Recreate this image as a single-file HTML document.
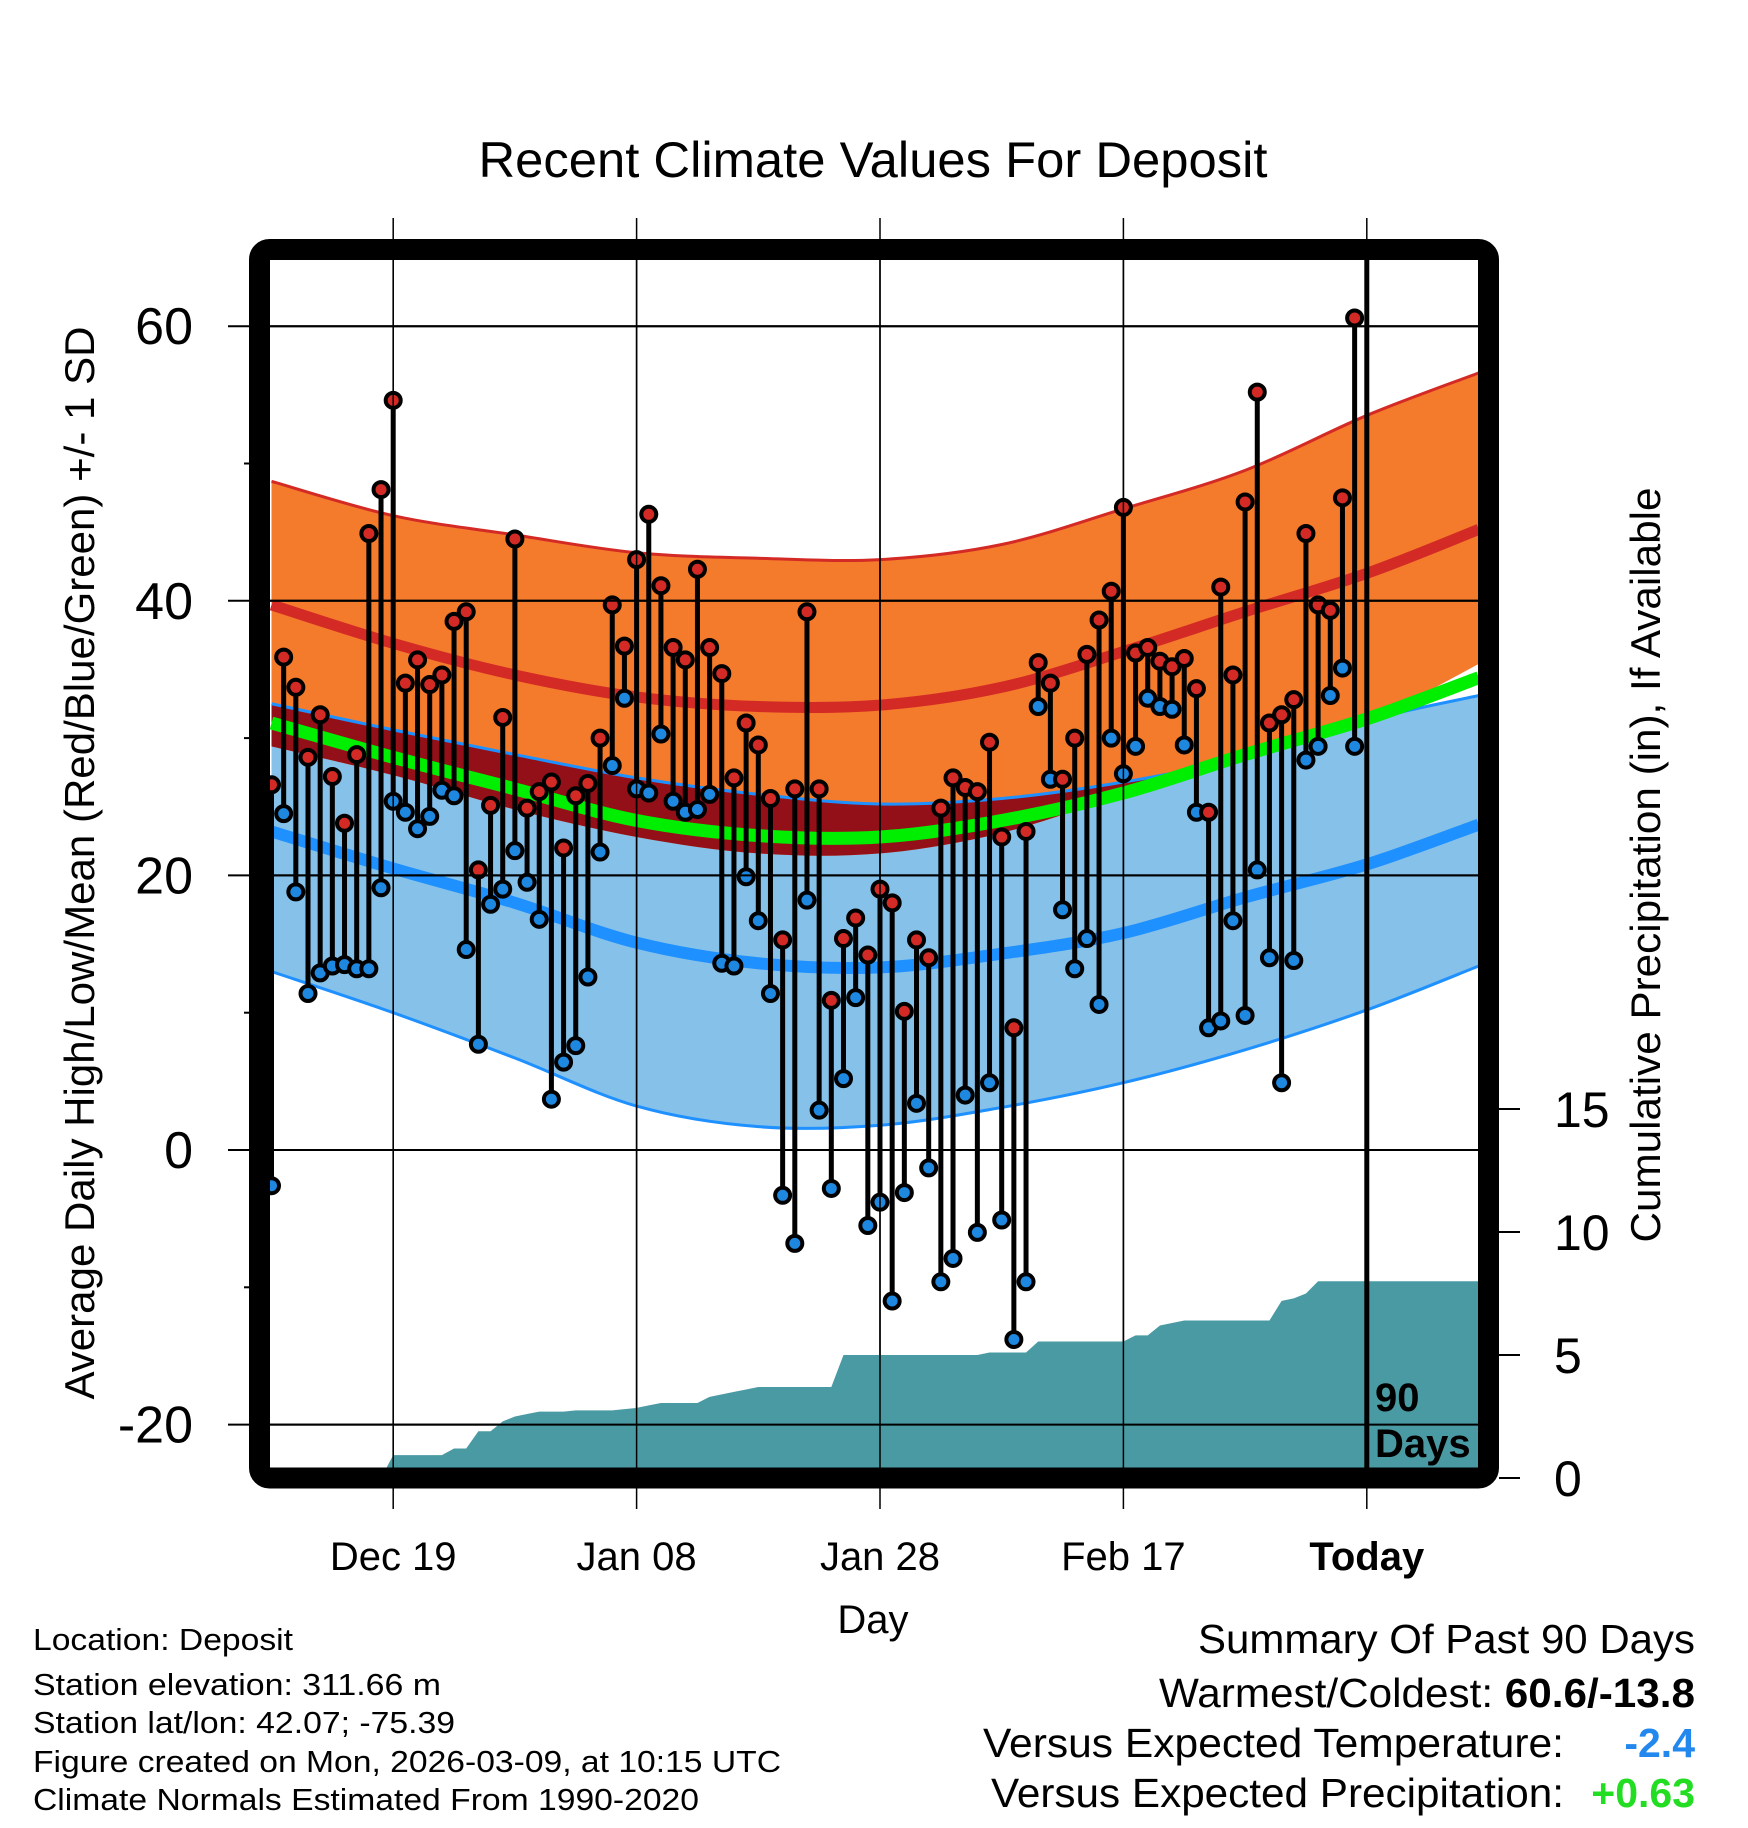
<!DOCTYPE html>
<html><head><meta charset="utf-8"><title>Recent Climate Values For Deposit</title>
<style>
html,body{margin:0;padding:0;background:#fff;}
svg{display:block;font-family:"Liberation Sans",Arial,sans-serif;}
</style></head>
<body>
<svg id="chart" width="1748" height="1828" viewBox="0 0 1748 1828" xmlns="http://www.w3.org/2000/svg">
<defs><clipPath id="plotclip"><rect x="270" y="260" width="1208" height="1208"/></clipPath></defs>
<text x="873" y="177" font-size="50" text-anchor="middle" textLength="789" lengthAdjust="spacingAndGlyphs">Recent Climate Values For Deposit</text>
<g id="plot" clip-path="url(#plotclip)"></g>
<g id="axes"></g>
<text transform="translate(94,863) rotate(-90)" font-size="42" text-anchor="middle" textLength="1073" lengthAdjust="spacingAndGlyphs">Average Daily High/Low/Mean (Red/Blue/Green) +/- 1 SD</text>
<text transform="translate(1660,865) rotate(-90)" font-size="42" text-anchor="middle" textLength="755" lengthAdjust="spacingAndGlyphs">Cumulative Precipitation (in), If Available</text>
<text x="873" y="1633" font-size="40" text-anchor="middle">Day</text>
<g font-size="31">
<text x="33" y="1650" textLength="260" lengthAdjust="spacingAndGlyphs">Location: Deposit</text>
<text x="33" y="1695" textLength="408" lengthAdjust="spacingAndGlyphs">Station elevation: 311.66 m</text>
<text x="33" y="1733" textLength="422" lengthAdjust="spacingAndGlyphs">Station lat/lon: 42.07; -75.39</text>
<text x="33" y="1772" textLength="748" lengthAdjust="spacingAndGlyphs">Figure created on Mon, 2026-03-09, at 10:15 UTC</text>
<text x="33" y="1810" textLength="666" lengthAdjust="spacingAndGlyphs">Climate Normals Estimated From 1990-2020</text>
</g>
<g font-size="41">
<text x="1198" y="1653" textLength="497" lengthAdjust="spacingAndGlyphs">Summary Of Past 90 Days</text>
<text x="1159" y="1707" textLength="536" lengthAdjust="spacingAndGlyphs">Warmest/Coldest: <tspan font-weight="bold">60.6/-13.8</tspan></text>
<text x="983" y="1757" textLength="581" lengthAdjust="spacingAndGlyphs">Versus Expected Temperature:</text>
<text x="1695" y="1757" font-weight="bold" fill="#2288ee" text-anchor="end">-2.4</text>
<text x="991" y="1807" textLength="573" lengthAdjust="spacingAndGlyphs">Versus Expected Precipitation:</text>
<text x="1695" y="1807" font-weight="bold" fill="#22dd22" text-anchor="end">+0.63</text>
</g>
</svg>
<script>
var highs=[26.6,35.9,33.7,28.6,31.7,27.2,23.8,28.8,44.9,48.1,54.6,34.0,35.7,33.9,34.6,38.5,39.2,20.4,25.1,31.5,44.5,24.9,26.1,26.8,22.0,25.8,26.7,30.0,39.7,36.7,43.0,46.3,41.1,36.6,35.7,42.3,36.6,34.7,27.1,31.1,29.5,25.6,15.3,26.3,39.2,26.3,10.9,15.4,16.9,14.2,19.0,18.0,10.1,15.3,14.0,24.9,27.1,26.4,26.1,29.7,22.8,8.9,23.2,35.5,34.0,27.0,30.0,36.1,38.6,40.7,46.8,36.2,36.6,35.6,35.2,35.8,33.6,24.6,41.0,34.6,47.2,55.2,31.1,31.7,32.8,44.9,39.7,39.3,47.5,60.6];
var lows=[-2.6,24.5,18.8,11.4,12.9,13.4,13.5,13.2,13.2,19.1,25.4,24.6,23.4,24.3,26.2,25.8,14.6,7.7,17.9,19.0,21.8,19.5,16.8,3.7,6.4,7.6,12.6,21.7,28.0,32.9,26.3,26.0,30.3,25.4,24.6,24.8,25.9,13.6,13.4,19.9,16.7,11.4,-3.3,-6.8,18.2,2.9,-2.8,5.2,11.1,-5.5,-3.8,-11.0,-3.1,3.4,-1.3,-9.6,-7.9,4.0,-6.0,4.9,-5.1,-13.8,-9.6,32.3,27.0,17.5,13.2,15.4,10.6,30.0,27.4,29.4,32.9,32.3,32.1,29.5,24.6,8.9,9.4,16.7,9.8,20.4,14.0,4.9,13.8,28.4,29.4,33.1,35.1,29.4];
var precip=[0,0,0,0,0,0,0,0,0,0,0.93,0.93,0.93,0.93,0.93,1.2,1.2,1.9,1.9,2.3,2.5,2.6,2.7,2.7,2.7,2.75,2.75,2.75,2.75,2.8,2.85,2.95,3.05,3.05,3.05,3.05,3.3,3.4,3.5,3.6,3.7,3.7,3.7,3.7,3.7,3.7,3.7,5.0,5.0,5.0,5.0,5.0,5.0,5.0,5.0,5.0,5.0,5.0,5.0,5.1,5.1,5.1,5.1,5.55,5.55,5.55,5.55,5.55,5.55,5.55,5.55,5.8,5.8,6.2,6.3,6.4,6.4,6.4,6.4,6.4,6.4,6.4,6.4,7.2,7.3,7.5,8.0,8.0,8.0,8.0];
var normDays=[0,10,20,30,40,50,60,70,80,90,99.2];
var highTop=[48.7,46.2,44.8,43.5,43.1,43.0,44.1,46.7,49.5,53.5,56.6];
var highMean=[39.7,36.9,34.6,33.0,32.3,32.4,33.7,36.3,39.2,42.0,45.2];
var highBot=[29.4,27.3,24.8,22.8,21.6,21.6,23.1,25.9,28.9,31.3,35.4];
var lowTop=[32.5,30.6,28.8,27.1,25.9,25.2,25.6,26.8,28.6,31.3,33.1];
var lowMean=[23.2,20.5,18.0,15.1,13.6,13.3,14.3,15.8,18.4,20.8,23.7];
var lowBot=[13.0,10.0,6.7,3.2,1.7,1.8,3.1,4.9,7.3,10.2,13.4];
var meanTemp=[31.1,28.6,26.3,24.0,22.9,22.8,24.0,26.0,28.8,31.4,34.4];
var yTicks=[60,40,20,0,-20];
var yMinor=[50,30,10,-10];
var precipTicks=[0,5,10,15];
var xTickDays=[10,30,50,70,90];
var xTickLabels=["Dec 19","Jan 08","Jan 28","Feb 17","Today"];

var NS="http://www.w3.org/2000/svg";
function X(d){return 271.5+d*12.17;}
function Y(t){return 1150-t*13.73;}
function P(p){return 1478-p*24.6;}
function mk(tag,attrs,parent){var e=document.createElementNS(NS,tag);for(var k in attrs)e.setAttribute(k,attrs[k]);parent.appendChild(e);return e;}
function pts(vals){return normDays.map(function(d,i){return [X(d),Y(vals[i])];});}
function smooth(p){var s="M"+p[0][0]+","+p[0][1];for(var i=0;i<p.length-1;i++){var p0=p[i>0?i-1:i],p1=p[i],p2=p[i+1],p3=p[i+2<p.length?i+2:i+1];
s+=" C"+(p1[0]+(p2[0]-p0[0])/6)+","+(p1[1]+(p2[1]-p0[1])/6)+" "+(p2[0]-(p3[0]-p1[0])/6)+","+(p2[1]-(p3[1]-p1[1])/6)+" "+p2[0]+","+p2[1];}return s;}
function smoothRev(p){return smooth(p.slice().reverse()).replace(/^M/,"L");}
function band(top,bot){return smooth(pts(top))+" "+smoothRev(pts(bot))+" Z";}
var plot=document.getElementById("plot"),axes=document.getElementById("axes");

var e;
e=mk("path",{d:band(lowTop,lowBot),fill:"#85c1e8"},plot);


e=mk("path",{d:smooth(pts(lowBot)),fill:"none",stroke:"#1e90ff","stroke-width":3},plot);


e=mk("path",{d:band(highTop,highBot),fill:"#f47a2c"},plot);


var ovBot=lowTop.map(function(v,i){return Math.min(v,highBot[i]);});
e=mk("path",{d:band(lowTop,ovBot),fill:"#931018"},plot);


e=mk("path",{d:smooth(pts(highTop)),fill:"none",stroke:"#d42a25","stroke-width":3},plot);


e=mk("path",{d:smooth(pts(lowTop)),fill:"none",stroke:"#1e90ff","stroke-width":3},plot);


e=mk("path",{d:smooth(pts(meanTemp)),fill:"none",stroke:"#00ee00","stroke-width":13},plot);


e=mk("path",{d:smooth(pts(highMean)),fill:"none",stroke:"#d42a25","stroke-width":11},plot);


e=mk("path",{d:smooth(pts(lowMean)),fill:"none",stroke:"#1e90ff","stroke-width":12},plot);



yTicks.forEach(function(t){
  var g=mk("line",{x1:228,x2:1478,y1:Y(t),y2:Y(t),stroke:"#000","stroke-width":2},axes);
  
  
  var l=mk("text",{x:193,y:Y(t)+18,"font-size":52,"text-anchor":"end"},axes);
  
  
  l.textContent=String(t);
});
yMinor.forEach(function(t){
  var g=mk("line",{x1:244,x2:252,y1:Y(t),y2:Y(t),stroke:"#000","stroke-width":2},axes);
  
  
});
xTickDays.forEach(function(d,i){
  var g=mk("line",{x1:X(d),x2:X(d),y1:218,y2:1509,stroke:"#000","stroke-width":1.5},axes);
  
  
  var l=mk("text",{x:X(d),y:1570,"font-size":40,"text-anchor":"middle","font-weight":(i==4?"bold":"normal")},axes);
  
  
  l.textContent=xTickLabels[i];
});
precipTicks.forEach(function(p){
  var g=mk("line",{x1:1499,x2:1520,y1:P(p),y2:P(p),stroke:"#000","stroke-width":2},axes);
  
  
  var l=mk("text",{x:1554,y:P(p)+18,"font-size":50},axes);
  
  
  l.textContent=String(p);
});
var gridLayer=mk("g",{},plot);


yTicks.forEach(function(t){var g=mk("line",{x1:270,x2:1478,y1:Y(t),y2:Y(t),stroke:"#000","stroke-width":2},gridLayer);

});
xTickDays.forEach(function(d){var g=mk("line",{x1:X(d),x2:X(d),y1:260,y2:1468,stroke:"#000","stroke-width":1.5},gridLayer);

});

var pd="M"+X(0)+","+P(0);
precip.forEach(function(p,i){pd+=" L"+X(i)+","+P(p);});
pd+=" L"+X(100)+","+P(precip[precip.length-1])+" L"+X(100)+","+P(0)+" Z";
e=mk("path",{d:pd,fill:"#4a9aa3"},plot);



highs.forEach(function(h,i){
  var s=mk("line",{x1:X(i),x2:X(i),y1:Y(h),y2:Y(lows[i]),stroke:"#000","stroke-width":5},plot);
  
  
});
highs.forEach(function(h,i){
  var c=mk("circle",{cx:X(i),cy:Y(h),r:7.5,fill:"#d42a25",stroke:"#000","stroke-width":4},plot);
  
  
  var c2=mk("circle",{cx:X(i),cy:Y(lows[i]),r:7.5,fill:"#1e88e0",stroke:"#000","stroke-width":4},plot);
  
  
});
e=mk("line",{x1:X(90),x2:X(90),y1:260,y2:1468,stroke:"#000","stroke-width":5},plot);


e=mk("text",{x:1375,y:1411,"font-size":40,"font-weight":"bold"},plot);


e.textContent="90";
e=mk("text",{x:1375,y:1457,"font-size":40,"font-weight":"bold"},plot);


e.textContent="Days";
var svg=document.getElementById("chart");
e=mk("rect",{x:259.5,y:249.5,width:1229,height:1228.5,rx:10,fill:"none",stroke:"#000","stroke-width":21},svg);


</script>
</body></html>
